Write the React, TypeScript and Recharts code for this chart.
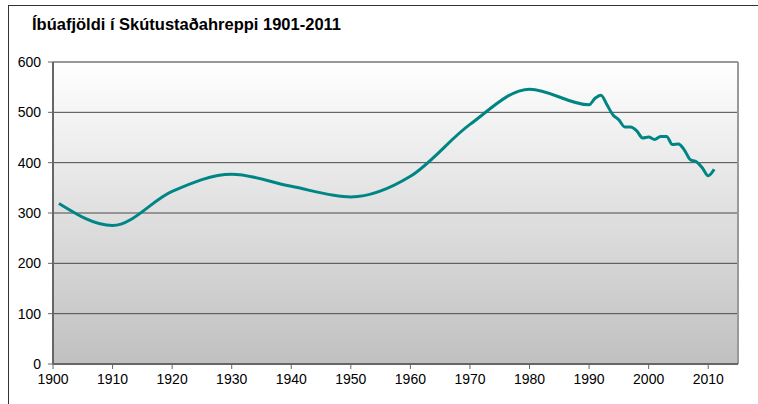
import { LineChart, Line, XAxis, YAxis, CartesianGrid, ReferenceLine } from 'recharts';

const years = [
  1901, 1910, 1920, 1930, 1940, 1950, 1960, 1970, 1980, 1990,
  1991, 1992, 1993, 1994, 1995, 1996, 1997, 1998, 1999, 2000,
  2001, 2002, 2003, 2004, 2005, 2006, 2007, 2008, 2009, 2010, 2011,
];
const population = [
  319, 275, 343, 377, 353, 332, 373, 476, 546, 515,
  528, 534, 515, 495, 485, 471, 471, 463, 449, 451,
  446, 452, 452, 436, 437, 425, 406, 402, 390, 374, 387,
];
const xTicks = [1900, 1910, 1920, 1930, 1940, 1950, 1960, 1970, 1980, 1990, 2000, 2010];
const yTicks = [0, 100, 200, 300, 400, 500, 600];

const data = years.map((year, i) => ({ year, value: population[i] }));

const font = '"Liberation Sans", Arial, sans-serif';

export default function App() {
  return (
    <div
      style={{
        position: 'absolute',
        left: 0,
        top: 0,
        width: 758,
        height: 404,
        overflow: 'hidden',
        background: '#fff',
        fontFamily: font,
      }}
    >
      <div
        style={{
          position: 'absolute',
          left: 8,
          top: 5,
          width: 760,
          height: 420,
          border: '1px solid #333',
        }}
      />
      <div
        style={{
          position: 'absolute',
          left: 32,
          top: 15,
          fontSize: 16.5,
          fontWeight: 'bold',
          color: '#000',
        }}
      >
        Íbúafjöldi í Skútustaðahreppi 1901-2011
      </div>
      <div style={{ position: 'absolute', left: 0, top: 0 }}>
        <LineChart
          width={758}
          height={404}
          data={data}
          margin={{ top: 62, right: 20, bottom: 6, left: 0 }}
        >
          <defs>
            <linearGradient id="plotBg" x1="0" y1="0" x2="0" y2="1">
              <stop offset="0%" stopColor="#ffffff" />
              <stop offset="100%" stopColor="#c0c0c0" />
            </linearGradient>
          </defs>
          <CartesianGrid
            vertical={false}
            fill="url(#plotBg)"
            fillOpacity={1}
            stroke="#4a4a4a"
            strokeWidth={1}
          />
          <XAxis
            dataKey="year"
            type="number"
            domain={[1900, 2015]}
            ticks={xTicks}
            interval={0}
            height={34}
            axisLine={{ stroke: '#666', strokeWidth: 2 }}
            tickLine={{ stroke: '#666' }}
            tickSize={5}
            tick={{ fill: '#000', fontSize: 14, fontFamily: font, dy: 3 }}
          />
          <YAxis
            type="number"
            domain={[0, 600]}
            ticks={yTicks}
            interval={0}
            width={53}
            axisLine={{ stroke: '#666', strokeWidth: 2 }}
            tickLine={{ stroke: '#666' }}
            tickSize={5}
            tick={{ fill: '#000', fontSize: 14, fontFamily: font, dx: -5 }}
          />
          <ReferenceLine x={2015} stroke="#999" strokeWidth={2} />
          <ReferenceLine y={600} stroke="#999" strokeWidth={2} />
          <Line
            type="monotone"
            dataKey="value"
            stroke="#008585"
            strokeWidth={3}
            dot={false}
            isAnimationActive={false}
          />
        </LineChart>
      </div>
    </div>
  );
}
